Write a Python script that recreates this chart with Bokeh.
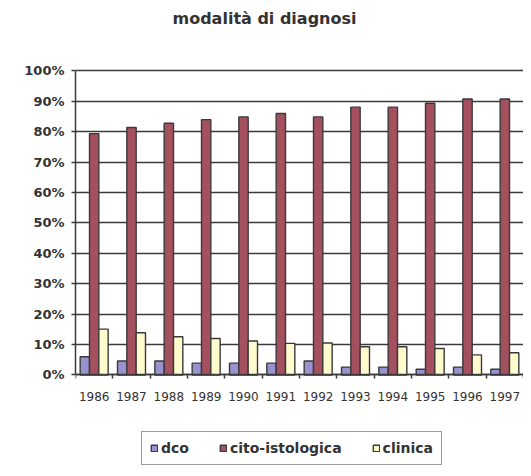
from bokeh.plotting import figure
from bokeh.models import ColumnDataSource, FixedTicker, Legend, Range1d
from bokeh.transform import dodge
from bokeh.embed import file_html
from bokeh.resources import INLINE

years = ["1986", "1987", "1988", "1989", "1990", "1991",
         "1992", "1993", "1994", "1995", "1996", "1997"]
dco = [6.0, 4.6, 4.6, 3.9, 3.9, 3.9, 4.6, 2.6, 2.6, 1.9, 2.6, 1.9]
cito = [79.4, 81.4, 82.8, 84.0, 84.9, 86.0, 84.9, 88.1, 88.1, 89.4, 90.8, 90.8]
clinica = [15.1, 13.9, 12.6, 12.0, 11.2, 10.4, 10.5, 9.3, 9.3, 8.7, 6.6, 7.3]
y_ticks = [0, 10, 20, 30, 40, 50, 60, 70, 80, 90, 100]
y_labels = ["0%", "10%", "20%", "30%", "40%", "50%", "60%", "70%", "80%", "90%", "100%"]

FONT = "DejaVu Sans"
TXT = "#333333"
EDGE = "#3a3a3a"

pos = [i + 0.5 for i in range(len(years))]
src = ColumnDataSource(dict(x=pos, dco=dco, cito=cito, clinica=clinica))

p = figure(width=523, height=468,
           x_range=Range1d(0, len(years)), y_range=Range1d(-30.76, 112.66),
           output_backend="svg", toolbar_location=None,
           min_border_left=75, min_border_right=0,
           min_border_top=32, min_border_bottom=0)
p.outline_line_color = None
p.background_fill_color = "white"

p.title.text = "modalità di diagnosi"
p.title.align = "left"
p.title.offset = 97
p.title.text_font = FONT
p.title.text_font_size = "16px"
p.title.text_font_style = "bold"
p.title.text_color = TXT

common = dict(width=0.25, source=src, line_color=EDGE, line_width=1.4)
r1 = p.vbar(x=dodge("x", -0.25, range=p.x_range), top="dco", fill_color="#9892CF", **common)
r2 = p.vbar(x=dodge("x", 0.0, range=p.x_range), top="cito", fill_color="#A5505F", **common)
r3 = p.vbar(x=dodge("x", 0.25, range=p.x_range), top="clinica", fill_color="#FFFBCE", **common)

# y axis
p.yaxis.ticker = FixedTicker(ticks=y_ticks)
p.yaxis.bounds = (0, 100)
p.yaxis.major_label_overrides = {t: l for t, l in zip(y_ticks, y_labels)}
p.yaxis.major_label_text_font = FONT
p.yaxis.major_label_text_font_style = "bold"
p.yaxis.major_label_text_font_size = "13px"
p.yaxis.major_label_text_color = TXT
p.yaxis.axis_line_color = EDGE
p.yaxis.axis_line_width = 1.5
p.yaxis.major_tick_line_color = EDGE
p.yaxis.major_tick_line_width = 1.5
p.yaxis.major_tick_in = 0
p.yaxis.major_tick_out = 4
p.yaxis.minor_tick_line_color = None
p.yaxis.major_label_standoff = 7

# x axis at y = 0: labels at centres, ticks between categories
p.xaxis.fixed_location = 0
p.xaxis.ticker = FixedTicker(ticks=pos, minor_ticks=list(range(len(years) + 1)))
p.xaxis.major_label_overrides = {x: y for x, y in zip(pos, years)}
p.xaxis.major_label_text_font = FONT
p.xaxis.major_label_text_font_size = "12px"
p.xaxis.major_label_text_color = TXT
p.xaxis.axis_line_color = EDGE
p.xaxis.axis_line_width = 1.5
p.xaxis.major_tick_line_color = None
p.xaxis.minor_tick_line_color = EDGE
p.xaxis.minor_tick_line_width = 1.5
p.xaxis.minor_tick_in = 0
p.xaxis.minor_tick_out = 4
p.xaxis.major_label_standoff = 11

p.xgrid.grid_line_color = None
p.ygrid.grid_line_color = EDGE
p.ygrid.grid_line_width = 1.5

legend = Legend(items=[("dco", [r1]), ("cito-istologica", [r2]), ("clinica", [r3])],
                orientation="horizontal", location=(66, 3))
legend.label_text_font = FONT
legend.label_text_font_style = "bold"
legend.label_text_font_size = "14px"
legend.label_text_color = TXT
legend.glyph_width = 8
legend.glyph_height = 8
legend.label_standoff = 3
legend.spacing = 30
legend.padding = 8
legend.margin = 0
legend.border_line_color = EDGE
legend.border_line_width = 1.5
legend.label_height = 15
p.add_layout(legend, "center")

open("out.html", "w").write(file_html(p, INLINE))
